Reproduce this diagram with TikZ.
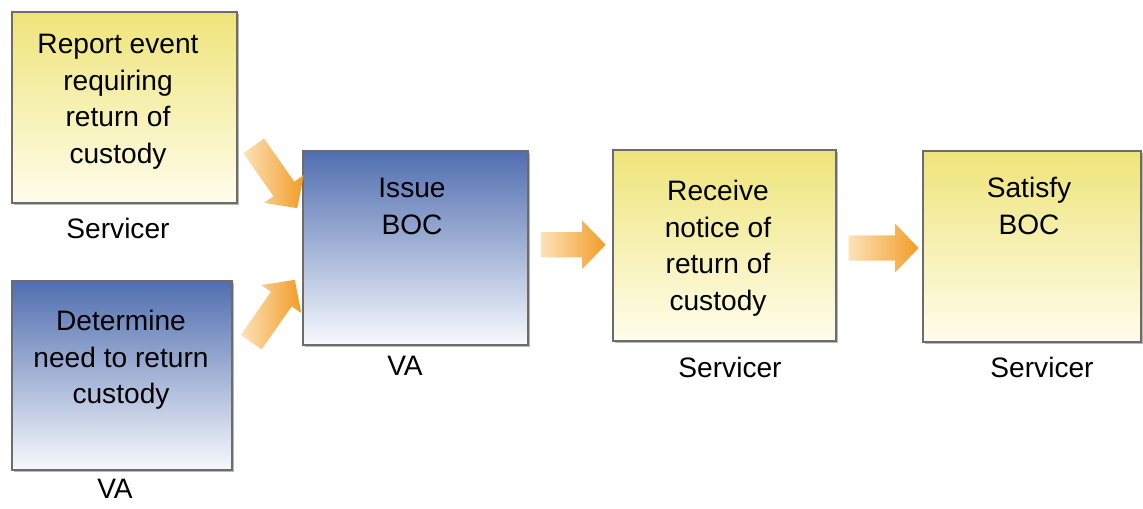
\documentclass[tikz,border=0pt]{standalone}
\usepackage{fontspec}
\setmainfont{Liberation Sans}
\usetikzlibrary{calc,shapes.arrows,shadows}
\definecolor{yelltop}{RGB}{238,228,122}
\definecolor{yellbot}{RGB}{255,253,236}
\definecolor{bluetop}{RGB}{80,110,176}
\definecolor{bluemid}{RGB}{156,174,212}
\definecolor{bluebot}{RGB}{247,249,253}
\definecolor{arrowtail}{RGB}{252,226,184}
\definecolor{arrowtip}{RGB}{242,156,38}
\tikzset{
  procbox/.style={rectangle,draw=gray!85!black,line width=0.04cm,inner sep=0pt,
    drop shadow={shadow xshift=0.04cm,shadow yshift=-0.06cm,opacity=0.55}},
  svcbox/.style={procbox,top color=yelltop,bottom color=yellbot},
  vabox/.style={procbox,top color=bluetop,middle color=bluemid,bottom color=bluebot},
  boxtext/.style={anchor=north,align=center,inner sep=0pt,font=\fontsize{20}{26}\selectfont},
  role/.style={anchor=base,inner sep=0pt,font=\fontsize{20}{26}\selectfont},
  flowarrow/.style={single arrow,inner xsep=0pt,inner ysep=0.31cm,minimum width=1.2cm,
    single arrow head extend=0.29cm,single arrow tip angle=92,
    left color=arrowtail,right color=arrowtip}
}
\begin{document}
\begin{tikzpicture}[x=0.025cm,y=0.025cm]
			\useasboundingbox(0,0)rectangle(1143,508);
			\node[svcbox,minimum width=5.625cm,minimum height=4.775cm](report)at(124.5,400.5){};
			\node[vabox,minimum width=5.5cm,minimum height=4.725cm](determine)at(122,132.5){};
			\node[vabox,minimum width=5.625cm,minimum height=4.85cm](issue)at(415.5,260){};
			\node[svcbox,minimum width=5.575cm,minimum height=4.775cm](receive)at(724.5,262.5){};
			\node[svcbox,minimum width=5.45cm,minimum height=4.775cm](satisfy)at(1032,261.5){};
			\node[boxtext](reporttext)at(118,474){Report event\\requiring\\return of\\custody};
			\node[boxtext](determinetext)at(121,198){Determine\\need to return\\custody};
			\node[boxtext](issuetext)at(412,330){Issue\\BOC};
			\node[boxtext](receivetext)at(718,328){Receive\\notice of\\return of\\custody};
			\node[boxtext](satisfytext)at(1029,331){Satisfy\\BOC};
			\node[role](reportrole)at(118,270){Servicer};
			\node[role](determinerole)at(115,10){VA};
			\node[role](issuerole)at(405,133){VA};
			\node[role](receiverole)at(730,131){Servicer};
			\node[role](satisfyrole)at(1042,131){Servicer};
			\node[flowarrow,minimum height=1.9cm,rotate=-55](arrowreport)at($(report.south east)!0.5!(issue.north west)+(2,5)$){};
			\node[flowarrow,minimum height=1.9cm,rotate=55](arrowdetermine)at($(determine.north east)!0.5!(issue.south west)+(2,-3)$){};
			\node[flowarrow,minimum height=1.6cm](arrowissue)at($(issue.east)!0.5!(receive.west)+(-3,2)$){};
			\node[flowarrow,minimum height=1.75cm](arrowreceive)at($(receive.east)!0.5!(satisfy.west)+(-2,-2)$){};
		\end{tikzpicture}
\end{document}
